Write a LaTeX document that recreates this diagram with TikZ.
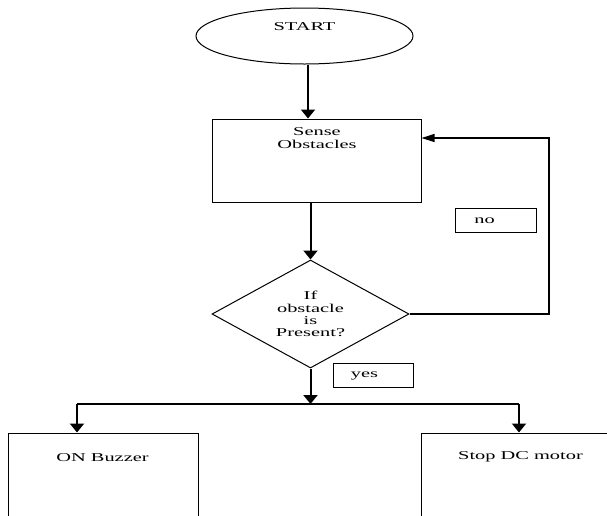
\documentclass[tikz,border=0pt]{standalone}
\usepackage{fontspec}
\setmainfont{Liberation Serif}[FakeStretch=1.7]
\usetikzlibrary{shapes.geometric,arrows.meta}
\begin{document}
\begin{tikzpicture}[x=1pt,y=-1pt,
  box/.style={draw, line width=1pt, rectangle, inner sep=0pt},
  txt/.style={inner sep=0pt, align=center, font=\fontsize{12}{12.2}\selectfont},
  arr/.style={line width=2pt, -{Triangle[width=14pt,length=9pt]}},
  link/.style={line width=1.3pt},
  fb/.style={line width=1.3pt, -{Triangle[width=8pt,length=13pt]}}]
\useasboundingbox (0,0) rectangle (607,515);
\clip (0,0) rectangle (607,515);
% nodes
\node[ellipse, draw, line width=1pt, minimum width=217pt, minimum height=56pt, inner sep=0pt] (start) at (304.5,36) {};
\node[txt] (starttxt) at (304.5,27) {START};
\node[box, minimum width=209pt, minimum height=83pt] (sense) at (316.5,160.5) {};
\node[txt] (sensetxt) at (317,138) {Sense\\Obstacles};
\node[diamond, draw, line width=1pt, aspect=1.824, minimum width=197pt, minimum height=108pt, txt] (dec) at (310.5,314) {If\\obstacle\\is\\Present?};
\node[box, minimum width=81pt, minimum height=24pt] (nobox) at (495.5,220) {};
\node[txt] (notxt) at (484.5,221) {no};
\node[box, minimum width=80pt, minimum height=24pt] (yesbox) at (373,375) {};
\node[txt] (yestxt) at (364.5,376) {yes};
\node[box, minimum width=190pt, minimum height=120pt] (buzz) at (103,493) {};
\node[txt] (buzztxt) at (102.5,458) {ON Buzzer};
\node[box, minimum width=198pt, minimum height=120pt] (motor) at (520,493) {};
\node[txt] (motortxt) at (520.5,457) {Stop DC motor};
% coordinates
\coordinate (a1) at (308,0);
\coordinate (fx) at (549,138);
\coordinate (j) at (310,404);
\coordinate (jl) at (77,404);
\coordinate (jr) at (519,404);
% connectors
\draw[arr] (a1 |- start.south) -- (a1 |- sense.north);
\draw[arr] (dec.north |- sense.south) -- (dec.north);
\draw[fb] (dec.east) -- (fx |- dec.east) -- (fx) -- (sense.east |- fx);
\draw[arr] (dec.south) -- (dec.south |- j);
\draw[link] (jl) -- (jr);
\draw[arr] (jl) -- (jl |- buzz.north);
\draw[arr] (jr) -- (jr |- motor.north);
\end{tikzpicture}
\end{document}
